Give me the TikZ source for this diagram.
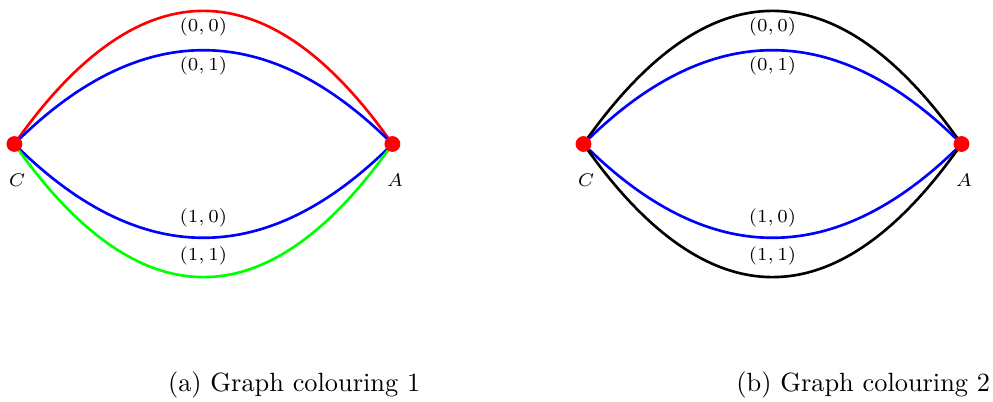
\documentclass[tikz,border=0pt]{standalone}
\usepackage{amsmath}
\usepackage{xcolor}
\usepackage{tikz}
\usetikzlibrary{backgrounds}

\begin{document}
\begin{tikzpicture}[
    vertex/.style={circle,fill=red,inner sep=0pt,minimum size=6pt},
    vlabel/.style={font=\scriptsize,label distance=4.7pt,xshift=1pt},
    elabel/.style={font=\scriptsize,text=black,inner sep=1pt},
    edge/.style={line width=1pt},
    wideup/.style={out=55,in=125,looseness=1.47},
    narrowup/.style={out=45,in=135,looseness=1.2},
    widedown/.style={out=-55,in=-125,looseness=1.47},
    narrowdown/.style={out=-45,in=-135,looseness=1.2}
  ]
    \useasboundingbox (0,0) rectangle (13.24,5.347);
    % same multigraph twice, only the edge colours differ
    \foreach \g/\x/\upc/\lowc/\num in {a/0.192/red/green/1, b/7.78/black/black/2} {
      \node[vertex,label={[vlabel]below:$C$}] (C\g) at (\x,3.427) {};
      \node[vertex,label={[vlabel]below:$A$}] (A\g) at (\x+5.04,3.427) {};
      \begin{scope}[on background layer]
        \draw[edge,\upc] (C\g.center) to[wideup] node[elabel,below=1pt]{$(0,0)$} (A\g.center);
        \draw[edge,blue] (C\g.center) to[narrowup] node[elabel,below=1pt]{$(0,1)$} (A\g.center);
        \draw[edge,blue] (C\g.center) to[narrowdown] node[elabel,above=2.5pt]{$(1,0)$} (A\g.center);
        \draw[edge,\lowc] (C\g.center) to[widedown] node[elabel,above=3pt]{$(1,1)$} (A\g.center);
      \end{scope}
      % subfigure caption
      \node (cap\g) at (\x+3.73,0.213) {(\g) Graph colouring \num};
    }
  \end{tikzpicture}
\end{document}
